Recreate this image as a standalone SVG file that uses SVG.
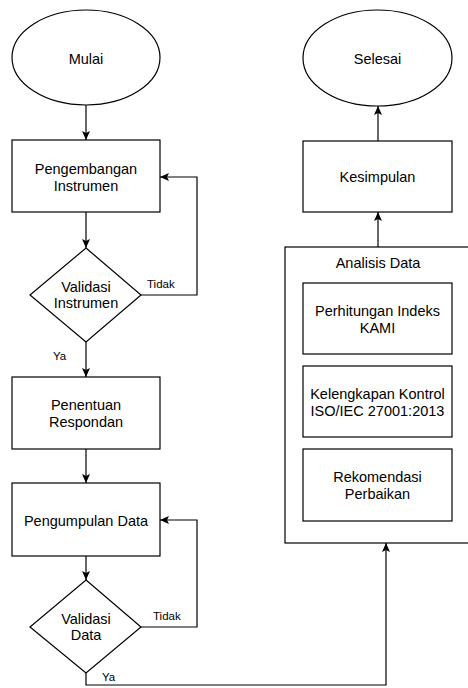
<svg xmlns="http://www.w3.org/2000/svg" width="468" height="688" viewBox="0 0 468 688">
<style>
.s{fill:#fff;stroke:#000;stroke-width:1.2}
.t{font-family:"Liberation Sans",Arial,sans-serif;font-size:14.5px;fill:#000;text-anchor:middle}
.l{font-family:"Liberation Sans",Arial,sans-serif;font-size:11.5px;fill:#000}
.c{fill:none;stroke:#000;stroke-width:1.2}
</style>
<defs>
<marker id="a" markerUnits="userSpaceOnUse" markerWidth="10" markerHeight="10" viewBox="0 0 10 10" refX="9" refY="5" orient="auto">
<path d="M0,1 L9,5 L0,9 L2,5 z" fill="#000"/>
</marker>
</defs>
<rect width="468" height="688" fill="#fff"/>
<g id="mulai"><ellipse class="s" cx="86" cy="57.5" rx="74" ry="47.5"/><text class="t" x="86" y="64">Mulai</text></g>
<g id="pengembangan"><rect class="s" x="12" y="140" width="148" height="72"/><text class="t" x="86" y="174">Pengembangan</text><text class="t" x="86" y="191">Instrumen</text></g>
<g id="validasi1"><path class="s" d="M86,248 L141,295 L86,342 L30,295 Z"/><text class="t" x="86" y="292">Validasi</text><text class="t" x="86" y="308">Instrumen</text></g>
<g id="penentuan"><rect class="s" x="12" y="377" width="148" height="72"/><text class="t" x="86" y="410">Penentuan</text><text class="t" x="86" y="427">Respondan</text></g>
<g id="pengumpulan"><rect class="s" x="12" y="483" width="148" height="73"/><text class="t" x="86" y="526">Pengumpulan Data</text></g>
<g id="validasi2"><path class="s" d="M86,580 L141,627 L86,673 L30,627 Z"/><text class="t" x="86" y="624">Validasi</text><text class="t" x="86" y="640">Data</text></g>
<g id="selesai"><ellipse class="s" cx="377.5" cy="58" rx="74.5" ry="48"/><text class="t" x="377.5" y="64">Selesai</text></g>
<g id="kesimpulan"><rect class="s" x="303" y="141" width="149" height="71"/><text class="t" x="377.5" y="182">Kesimpulan</text></g>
<g id="analisis"><rect class="s" x="285" y="247" width="200" height="296"/><text class="t" x="378" y="268">Analisis Data</text></g>
<g id="indeks"><rect class="s" x="303" y="283" width="149" height="71"/><text class="t" x="377.5" y="316">Perhitungan Indeks</text><text class="t" x="377.5" y="333">KAMI</text></g>
<g id="kontrol"><rect class="s" x="303" y="366" width="149" height="71"/><text class="t" x="377.5" y="399">Kelengkapan Kontrol</text><text class="t" x="377.5" y="416">ISO/IEC 27001:2013</text></g>
<g id="rekomendasi"><rect class="s" x="303" y="449" width="149" height="72"/><text class="t" x="377.5" y="482">Rekomendasi</text><text class="t" x="377.5" y="499">Perbaikan</text></g>
<g id="connectors">
<path class="c" d="M86,105 V140" marker-end="url(#a)"/>
<path class="c" d="M86,212 V248" marker-end="url(#a)"/>
<path class="c" d="M141,295 H197 V177 H160" marker-end="url(#a)"/>
<path class="c" d="M86,342 V377" marker-end="url(#a)"/>
<path class="c" d="M86,449 V483" marker-end="url(#a)"/>
<path class="c" d="M86,556 V580" marker-end="url(#a)"/>
<path class="c" d="M141,627 H197 V520 H160" marker-end="url(#a)"/>
<path class="c" d="M86,673 V685 H386 V543" marker-end="url(#a)"/>
<path class="c" d="M378,247 V212" marker-end="url(#a)"/>
<path class="c" d="M378,141 V106" marker-end="url(#a)"/>
<text class="l" x="147" y="288">Tidak</text>
<text class="l" x="53" y="360">Ya</text>
<text class="l" x="153" y="620">Tidak</text>
<text class="l" x="102" y="681">Ya</text>
</g>
</svg>
